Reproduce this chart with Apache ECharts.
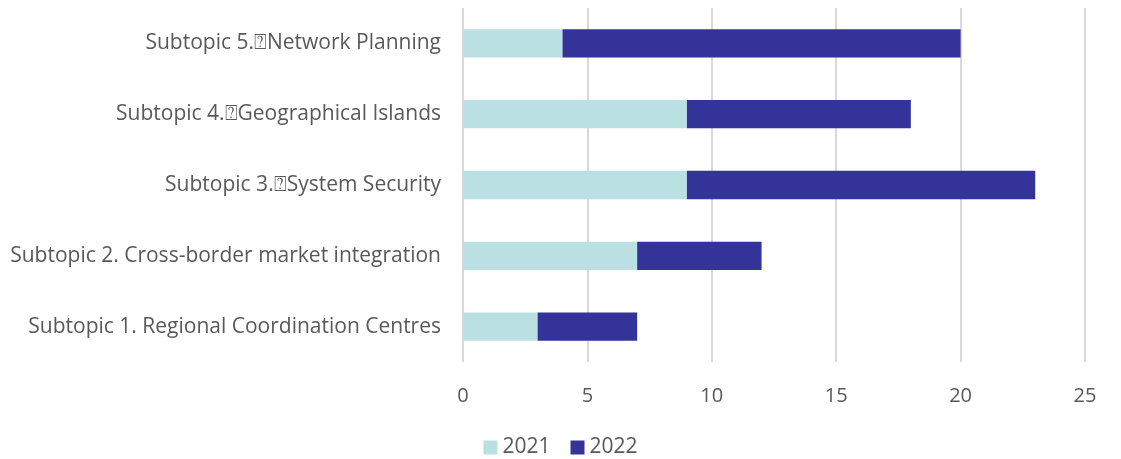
<!DOCTYPE html>
<html><head><meta charset="utf-8">
<script src="https://cdn.jsdelivr.net/npm/echarts@6/dist/echarts.min.js"></script>
<style>html,body{margin:0;padding:0;background:#fff}#c{width:1121px;height:459px}</style>
</head><body><div id="c"></div>
<script>
const categories = [
  "Subtopic 1. Regional Coordination Centres",
  "Subtopic 2. Cross-border market integration",
  "Subtopic 3.\u2370System Security",
  "Subtopic 4.\u2370Geographical Islands",
  "Subtopic 5.\u2370Network Planning"
];
const values2021 = [3, 7, 9, 9, 4];
const values2022 = [4, 5, 14, 9, 16];
const seriesNames = ["2021", "2022"];

const font = "'Open Sans', 'Noto Sans', sans-serif";
const chart = echarts.init(document.getElementById('c'));
chart.setOption({
  animation: false,
  textStyle: {fontFamily: font},
  grid: {left: 463, right: 36, top: 8, bottom: 97, containLabel: false},
  legend: {
    data: seriesNames, top: 432, left: 'center', icon: 'rect', itemWidth: 14, itemHeight: 14, itemGap: 20,
    textStyle: {color: '#595959', fontSize: 21, fontFamily: font}
  },
  xAxis: {
    type: 'value', min: 0, max: 25, interval: 5,
    axisLine: {show: false}, axisTick: {show: false},
    splitLine: {lineStyle: {color: '#d9d9d9', width: 2}},
    axisLabel: {color: '#595959', fontSize: 20, margin: 24, fontFamily: font}
  },
  yAxis: {
    type: 'category', data: categories,
    axisLine: {show: false}, axisTick: {show: false},
    axisLabel: {color: '#595959', fontSize: 21, margin: 22, fontFamily: font}
  },
  series: [
    {name: seriesNames[0], type: 'bar', stack: 't', data: values2021, barCategoryGap: '60%',
     itemStyle: {color: '#bbe0e3'}},
    {name: seriesNames[1], type: 'bar', stack: 't', data: values2022, barCategoryGap: '60%',
     itemStyle: {color: '#333399'}}
  ]
});
</script></body></html>
